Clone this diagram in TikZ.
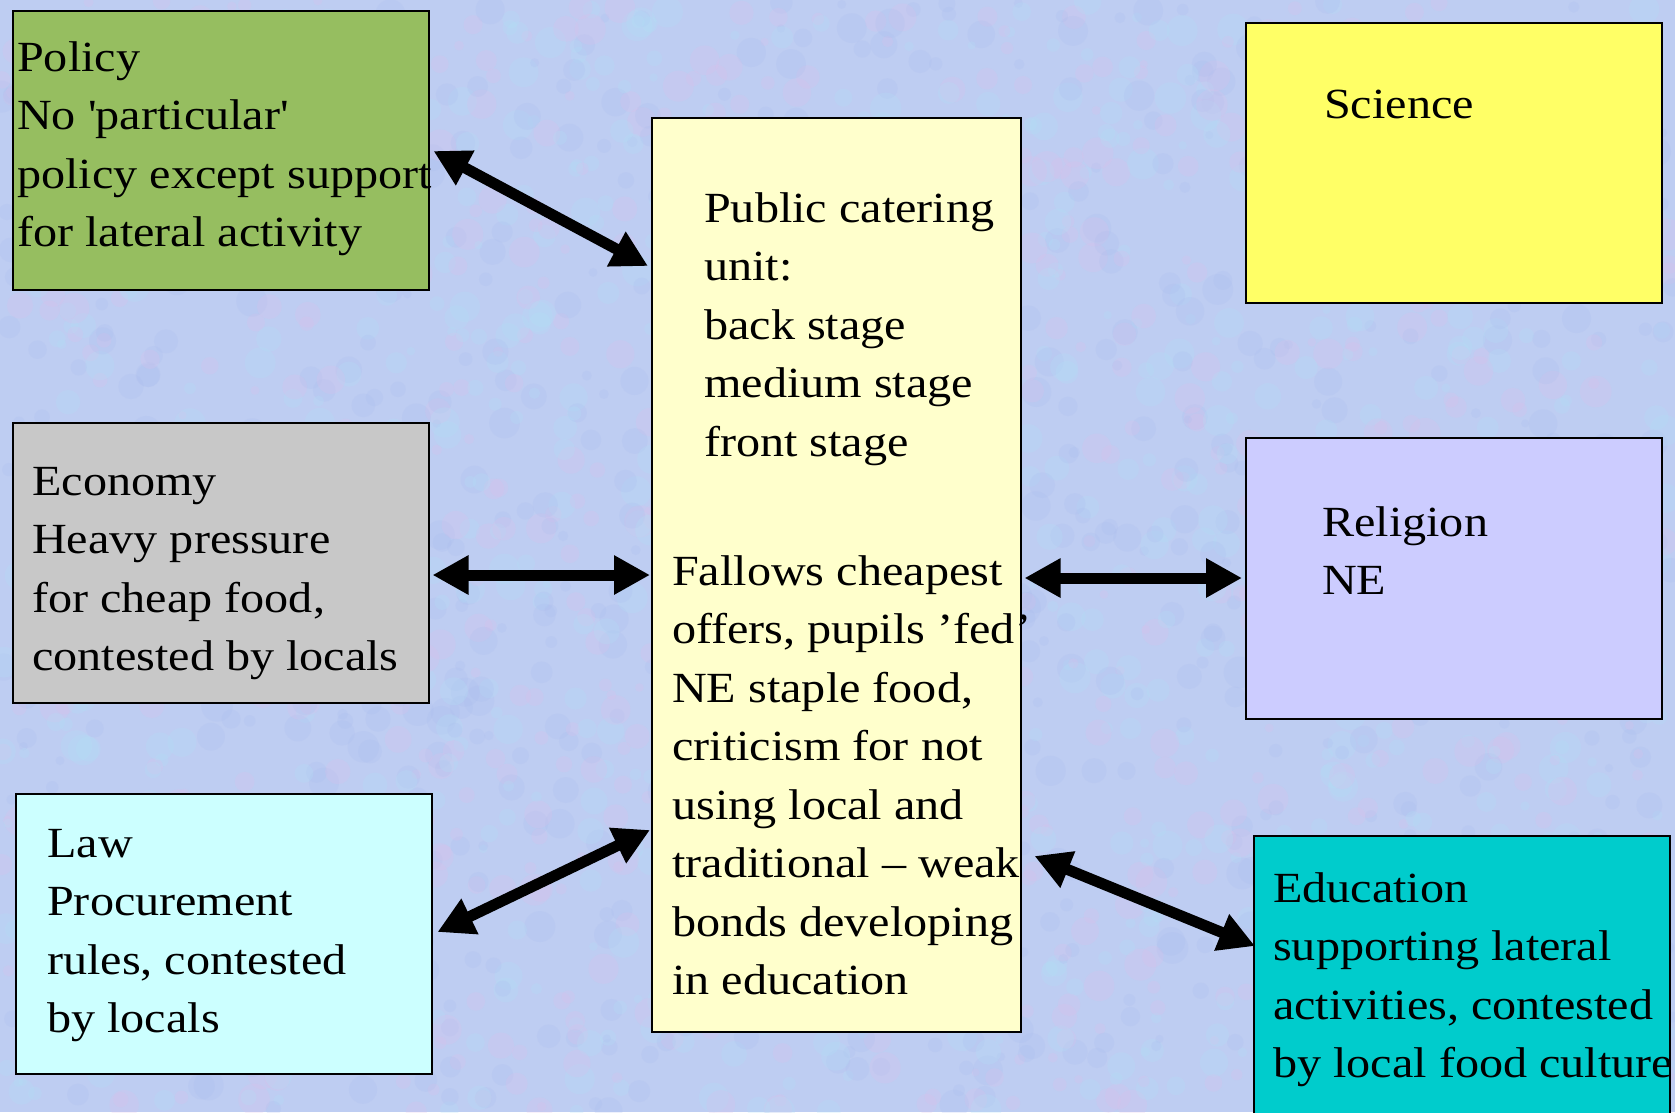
\documentclass[tikz,border=0pt]{standalone}
\usepackage{fontspec}
\setmainfont{Liberation Serif}[FakeStretch=1.12]
\usetikzlibrary{arrows.meta}
\definecolor{bgbase}{RGB}{190,205,242}
\definecolor{bgpink}{RGB}{222,190,234}
\definecolor{bgcyan}{RGB}{178,224,246}
\definecolor{bgblue}{RGB}{168,186,238}
\definecolor{policyfill}{RGB}{150,190,96}
\definecolor{sciencefill}{RGB}{255,255,102}
\definecolor{centerfill}{RGB}{255,255,204}
\definecolor{economyfill}{RGB}{200,200,200}
\definecolor{religionfill}{RGB}{204,204,255}
\definecolor{lawfill}{RGB}{204,255,255}
\definecolor{educationfill}{RGB}{0,204,204}
\newcommand{\boxtext}[1]{\parbox[t]{520pt}{\raggedright #1}}
\begin{document}
\begin{tikzpicture}[x=1pt,y=-1pt,
  box/.style={draw=black,line width=1.5pt,rectangle,anchor=north west,inner sep=0pt},
  txt/.style={anchor=base west,inner sep=0pt,font=\fontsize{43}{58.5}\selectfont},
  conn/.style={line width=11pt,{Triangle[length=36pt,width=37pt]}-{Triangle[length=36pt,width=37pt]}}]
\useasboundingbox (0,0) rectangle (1675,1112);
% background texture
\fill[bgbase] (0,0) rectangle (1675,1112);
\begin{scope}
\clip (0,0) rectangle (1675,1112);
\pgfmathsetseed{7}
\foreach \i in {1,...,2600}{
  \pgfmathsetmacro{\px}{rnd*1675}
  \pgfmathsetmacro{\py}{rnd*1112}
  \pgfmathsetmacro{\pr}{4+rnd*12}
  \pgfmathtruncatemacro{\pc}{rnd*3}
  \ifcase\pc
    \fill[bgpink,opacity=0.22] (\px,\py) circle[radius=\pr];
  \or
    \fill[bgcyan,opacity=0.25] (\px,\py) circle[radius=\pr];
  \else
    \fill[bgblue,opacity=0.2] (\px,\py) circle[radius=\pr];
  \fi
}
\end{scope}
% boxes
\node[box,fill=policyfill,minimum width=416pt,minimum height=279pt] (policy) at (12,10) {};
\node[box,fill=sciencefill,minimum width=416pt,minimum height=280pt] (science) at (1245,22) {};
\node[box,fill=centerfill,minimum width=369pt,minimum height=914pt] (center) at (651,117) {};
\node[box,fill=economyfill,minimum width=416pt,minimum height=280pt] (economy) at (12,422) {};
\node[box,fill=religionfill,minimum width=416pt,minimum height=281pt] (religion) at (1245,437) {};
\node[box,fill=lawfill,minimum width=416pt,minimum height=280pt] (law) at (15,793) {};
\node[box,fill=educationfill,minimum width=416pt,minimum height=300pt] (education) at (1253,835) {};
% texts
\node[txt] (policytext) at (17,71) {\boxtext{Policy\\No \textquotesingle particular\textquotesingle\\policy except support\\for lateral activity}};
\node[txt] (sciencetext) at (1324,118) {\boxtext{Science}};
\node[txt] (centertop) at (704,222) {\boxtext{Public catering\\unit:\\back stage\\medium stage\\front stage}};
\node[txt] (centerbottom) at (672,585) {\boxtext{Fallows cheapest\\offers, pupils ’fed’\\NE staple food,\\criticism for not\\using local and\\traditional – weak\\bonds developing\\in education}};
\node[txt] (economytext) at (32,495) {\boxtext{Economy\\Heavy pressure\\for cheap food,\\contested by locals}};
\node[txt] (religiontext) at (1322,536) {\boxtext{Religion\\NE}};
\node[txt] (lawtext) at (47,857) {\boxtext{Law\\Procurement\\rules, contested\\by locals}};
\node[txt] (educationtext) at (1273,902) {\boxtext{Education\\supporting lateral\\activities, contested\\by local food culture}};
% connectors
\draw[conn] ([shift={(4,141)}]policy.north east) -- ([shift={(-3,149)}]center.north west);
\draw[conn] ([shift={(3,153)}]economy.north east) -- ([shift={(-1,458)}]center.north west);
\draw[conn] ([shift={(5,139)}]law.north east) -- ([shift={(-1,713)}]center.north west);
\draw[conn] ([shift={(3,461)}]center.north east) -- ([shift={(-3,141)}]religion.north west);
\draw[conn] ([shift={(13,739)}]center.north east) -- ([shift={(2,111)}]education.north west);
\end{tikzpicture}
\end{document}
